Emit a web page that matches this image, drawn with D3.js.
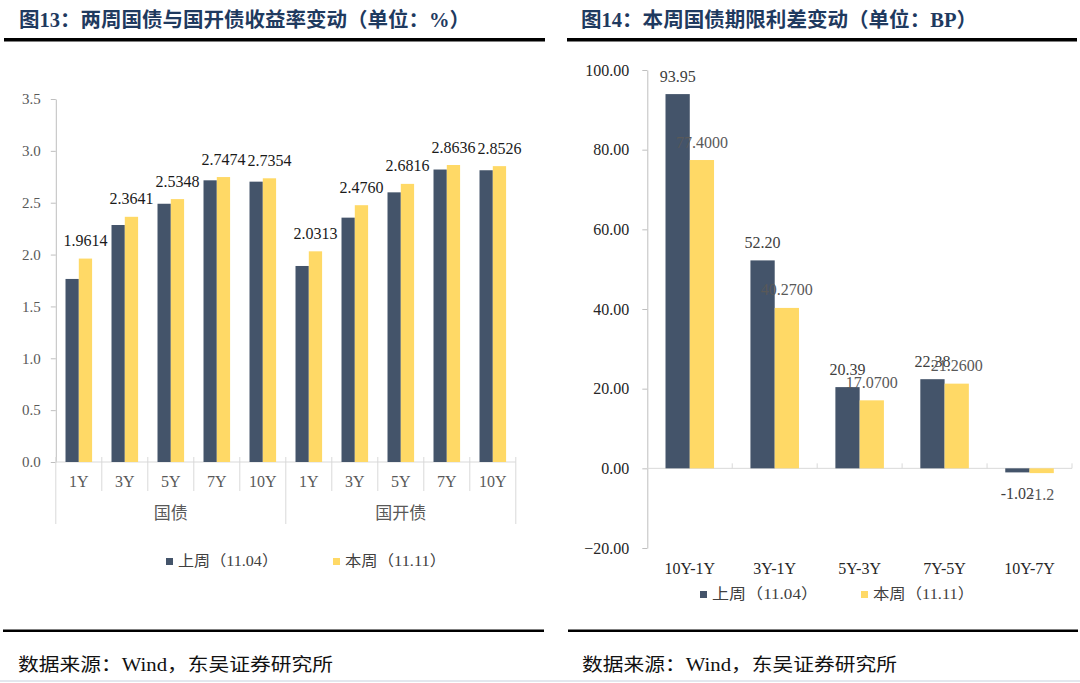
<!DOCTYPE html>
<html><head><meta charset="utf-8">
<script src="https://cdn.jsdelivr.net/npm/d3@7"></script>
<style>body{margin:0;background:#fff;} svg{display:block}</style>
</head><body><svg id="c" width="1080" height="683"></svg>
<script>
// ---- data ----
const groups = ["国债", "国开债"];
const tenors = ["1Y", "3Y", "5Y", "7Y", "10Y"];
const leftPrev = [1.765, 2.285, 2.49, 2.716, 2.703, 1.89, 2.356, 2.60, 2.82, 2.813];
const leftCur = [1.9614, 2.3641, 2.5348, 2.7474, 2.7354, 2.0313, 2.4760, 2.6816, 2.8636, 2.8526];
const leftTicks = [0, 0.5, 1, 1.5, 2, 2.5, 3, 3.5];
const spreadCats = ["10Y-1Y", "3Y-1Y", "5Y-3Y", "7Y-5Y", "10Y-7Y"];
const spreadPrev = [93.95, 52.20, 20.39, 22.38, -1.02];
const spreadCur = [77.40, 40.27, 17.07, 21.26, -1.2];
const spreadCurLabels = ["77.4000", "40.2700", "17.0700", "21.2600", "-1.2"];
const rightTicks = [-20, 0, 20, 40, 60, 80, 100];
const seriesNames = ["上周（11.04）", "本周（11.11）"];
const titles = ["图13：两周国债与国开债收益率变动（单位：%）", "图14：本周国债期限利差变动（单位：BP）"];
const source = "数据来源：Wind，东吴证券研究所";

// ---- style ----
const C_DARK = "#44546A", C_YEL = "#FFD966";
const SERIF = "'Liberation Serif','Times New Roman',serif";
const CJK = "'Liberation Serif','Noto Sans CJK SC',sans-serif";
const svg = d3.select("#c");

// titles & rules
[[19, 451], [581, 396]].forEach((p, i) => {
  svg.append("text").attr("x", p[0]).attr("y", 27).text(titles[i])
    .attr("font-family", CJK).attr("font-weight", "bold").attr("font-size", 20)
    .attr("fill", "#1F3A5F").attr("textLength", p[1]).attr("lengthAdjust", "spacingAndGlyphs");
});
svg.append("rect").attr("x", 4).attr("y", 38).attr("width", 541).attr("height", 3.5).attr("fill", "#000");
svg.append("rect").attr("x", 567).attr("y", 38).attr("width", 510).attr("height", 3.5).attr("fill", "#000");
svg.append("rect").attr("x", 3).attr("y", 629.5).attr("width", 541).attr("height", 2.5).attr("fill", "#000");
svg.append("rect").attr("x", 568).attr("y", 629.5).attr("width", 510).attr("height", 2.5).attr("fill", "#000");
[18, 582].forEach(x => {
  svg.append("text").attr("x", x).attr("y", 671).text(source)
    .attr("font-family", CJK).attr("font-size", 18).attr("fill", "#111")
    .attr("textLength", 315).attr("lengthAdjust", "spacingAndGlyphs");
});
svg.append("rect").attr("x", 0).attr("y", 680).attr("width", 1080).attr("height", 2).attr("fill", "#e3e7ee");

function legend(items) {
  items.forEach(it => {
    svg.append("rect").attr("x", it.x).attr("y", it.y - 8).attr("width", 7).attr("height", 7).attr("fill", it.c);
    svg.append("text").attr("x", it.x + 12).attr("y", it.y).text(it.t)
      .attr("font-family", CJK).attr("font-size", 15).attr("fill", "#404040")
      .attr("textLength", it.w).attr("lengthAdjust", "spacingAndGlyphs");
  });
}

// ---- left chart ----
{
  const idx = d3.range(groups.length * tenors.length);
  const x0 = d3.scaleBand().domain(idx).range([55.8, 515.8]);
  const x1 = d3.scaleBand().domain([0, 1]).range([0, x0.bandwidth()]).paddingOuter(0.73);
  const y = d3.scaleLinear().domain([0, 3.5]).range([462, 99]);
  const g = svg.append("g");

  const ax = g.append("g").attr("transform", "translate(55.8,0)")
    .call(d3.axisLeft(y).tickValues(leftTicks).tickFormat(d3.format(".1f")).tickSize(5).tickSizeOuter(0).tickPadding(10));
  ax.select(".domain").attr("stroke", "#bfbfbf");
  ax.selectAll(".tick line").attr("stroke", "#bfbfbf");
  ax.selectAll(".tick text").attr("font-family", SERIF).attr("font-size", 15).attr("fill", "#595959");

  g.append("line").attr("x1", x0.range()[0]).attr("x2", x0.range()[1]).attr("y1", y(0)).attr("y2", y(0)).attr("stroke", "#d9d9d9");
  d3.range(idx.length + 1).forEach(k => {
    const xp = x0.range()[0] + k * x0.step();
    g.append("line").attr("x1", xp).attr("x2", xp).attr("y1", y(0) - 5).attr("y2", k % 5 === 0 ? 524 : 491).attr("stroke", "#d9d9d9");
  });

  [leftPrev, leftCur].forEach((vals, s) => {
    g.selectAll(null).data(vals).enter().append("rect")
      .attr("x", (d, i) => x0(i) + x1(s)).attr("width", x1.bandwidth())
      .attr("y", d => y(d)).attr("height", d => y(0) - y(d))
      .attr("fill", s ? C_YEL : C_DARK);
  });
  g.selectAll(null).data(leftCur).enter().append("text")
    .attr("x", (d, i) => x0(i) + x1(1) + x1.bandwidth() / 2).attr("y", d => y(d) - 12.5)
    .attr("text-anchor", "middle").attr("font-family", SERIF).attr("font-size", 16).attr("fill", "#1a1a1a")
    .text(d => d3.format(".4f")(d));

  idx.forEach(i => {
    g.append("text").attr("x", x0(i) + x0.bandwidth() / 2).attr("y", 487)
      .attr("text-anchor", "middle").attr("font-family", SERIF).attr("font-size", 16).attr("fill", "#595959")
      .text(tenors[i % 5]);
  });
  groups.forEach((gn, gi) => {
    const xa = x0(gi * 5), xb = x0(gi * 5 + 4) + x0.bandwidth();
    g.append("text").attr("x", (xa + xb) / 2).attr("y", 519).attr("text-anchor", "middle")
      .attr("font-family", CJK).attr("font-size", 17).attr("fill", "#595959").text(gn);
  });
  legend([{x: 166, y: 566, c: C_DARK, t: seriesNames[0], w: 100}, {x: 333, y: 566, c: C_YEL, t: seriesNames[1], w: 101}]);
}

// ---- right chart ----
{
  const x0 = d3.scaleBand().domain(spreadCats).range([647.3, 1072]);
  const x1 = d3.scaleBand().domain([0, 1]).range([0, x0.bandwidth()]).paddingOuter(0.75);
  const y = d3.scaleLinear().domain([-20, 100]).range([548, 70]);
  const g = svg.append("g");

  const ax = g.append("g").attr("transform", "translate(647.3,0)")
    .call(d3.axisLeft(y).tickValues(rightTicks).tickFormat(d3.format(".2f")).tickSize(5).tickSizeOuter(0).tickPadding(13));
  ax.select(".domain").attr("stroke", "#bfbfbf");
  ax.selectAll(".tick line").attr("stroke", "#bfbfbf");
  ax.selectAll(".tick text").attr("font-family", SERIF).attr("font-size", 16).attr("fill", "#262626");

  g.append("line").attr("x1", x0.range()[0]).attr("x2", x0.range()[1]).attr("y1", y(0)).attr("y2", y(0)).attr("stroke", "#d9d9d9");
  d3.range(1, spreadCats.length + 1).forEach(k => {
    const xp = x0.range()[0] + k * x0.step();
    g.append("line").attr("x1", xp).attr("x2", xp).attr("y1", y(0) - 5).attr("y2", y(0)).attr("stroke", "#d9d9d9");
  });

  [spreadPrev, spreadCur].forEach((vals, s) => {
    g.selectAll(null).data(vals).enter().append("rect")
      .attr("x", (d, i) => x0(spreadCats[i]) + x1(s)).attr("width", x1.bandwidth())
      .attr("y", d => Math.min(y(d), y(0))).attr("height", d => Math.abs(y(0) - y(d)))
      .attr("fill", s ? C_YEL : C_DARK);
  });
  const labY = d => d >= 0 ? y(d) - 12.5 : y(d) + 27;
  g.selectAll(null).data(spreadPrev).enter().append("text")
    .attr("x", (d, i) => x0(spreadCats[i]) + x1(0) + x1.bandwidth() / 2).attr("y", labY)
    .attr("text-anchor", "middle").attr("font-family", SERIF).attr("font-size", 16).attr("fill", "#404040")
    .text(d => d3.format(".2f")(d).replace("−", "-"));
  g.selectAll(null).data(spreadCur).enter().append("text")
    .attr("x", (d, i) => x0(spreadCats[i]) + x1(1) + x1.bandwidth() / 2).attr("y", labY)
    .attr("text-anchor", "middle").attr("font-family", SERIF).attr("font-size", 16).attr("fill", "#595959")
    .text((d, i) => spreadCurLabels[i]);

  spreadCats.forEach(c => {
    g.append("text").attr("x", x0(c) + x0.bandwidth() / 2).attr("y", 574).attr("text-anchor", "middle")
      .attr("font-family", SERIF).attr("font-size", 16).attr("fill", "#262626").text(c);
  });
  legend([{x: 700, y: 599, c: C_DARK, t: seriesNames[0], w: 106}, {x: 861, y: 599, c: C_YEL, t: seriesNames[1], w: 101}]);
}
</script></body></html>
